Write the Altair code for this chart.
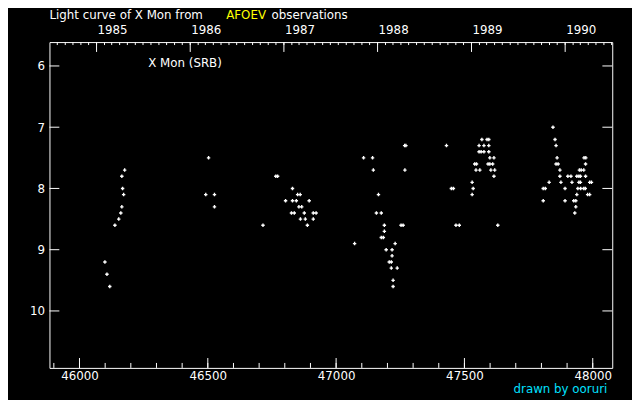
import altair as alt
import pandas as pd

# ---- observations (JD - 2400000, visual magnitude) ----
jd_1985 = [46099, 46107, 46118, 46138, 46153, 46161, 46165, 46172, 46168, 46165, 46176]
mag_1985 = [9.2, 9.4, 9.6, 8.6, 8.5, 8.4, 8.3, 8.1, 8.0, 7.8, 7.7]

jd_1986 = [46503, 46492, 46526, 46526]
mag_1986 = [7.5, 8.1, 8.1, 8.3]

jd_1987 = [46715, 46765, 46772, 46830, 46850, 46860, 46803, 46830, 46845, 46895,
           46855, 46866, 46826, 46837, 46876, 46911, 46922, 46861, 46880, 46911, 46888]
mag_1987 = [8.6, 7.8, 7.8, 8.0, 8.1, 8.1, 8.2, 8.2, 8.2, 8.2,
            8.3, 8.3, 8.4, 8.4, 8.4, 8.4, 8.4, 8.5, 8.5, 8.5, 8.6]

jd_1988 = [47072, 47107, 47142, 47145, 47165, 47157, 47176, 47188, 47188, 47176,
           47184, 47230, 47195, 47218, 47218, 47207, 47215, 47215, 47238, 47222,
           47222, 47253, 47261, 47267, 47272, 47268]
mag_1988 = [8.9, 7.5, 7.5, 7.7, 8.1, 8.4, 8.4, 8.6, 8.7, 8.8,
            8.8, 8.9, 9.0, 9.0, 9.1, 9.2, 9.2, 9.3, 9.3, 9.5,
            9.6, 8.6, 8.6, 7.3, 7.3, 7.7]

jd_1989 = [47430, 47449, 47457, 47467, 47480, 47530, 47534, 47530, 47540, 47547,
           47545, 47560, 47557, 47576, 47595, 47557, 47565, 47576, 47595, 47568,
           47588, 47595, 47599, 47615, 47592, 47599, 47610, 47603, 47618, 47615, 47630]
mag_1989 = [7.3, 8.0, 8.0, 8.6, 8.6, 7.9, 8.0, 8.1, 7.6, 7.6,
            7.7, 7.7, 7.3, 7.3, 7.3, 7.4, 7.4, 7.4, 7.4, 7.2,
            7.2, 7.2, 7.5, 7.5, 7.6, 7.6, 7.6, 7.7, 7.7, 7.8, 8.6]

jd_1990 = [47807, 47815, 47807, 47830, 47845, 47853, 47857, 47861, 47857, 47865,
           47872, 47872, 47876, 47892, 47892, 47903, 47915, 47919, 47938, 47946,
           47952, 47972, 47926, 47934, 47938, 47934, 47930, 47942, 47953, 47965,
           47971, 47946, 47952, 47988, 47995, 47948, 47955, 47965, 47966, 47973,
           47972, 47980, 47988]
mag_1990 = [8.0, 8.0, 8.2, 7.9, 7.0, 7.2, 7.3, 7.5, 7.6, 7.6,
            7.7, 7.8, 7.9, 8.0, 8.2, 7.8, 7.8, 7.9, 7.8, 7.8,
            7.8, 7.8, 8.2, 8.2, 8.1, 8.3, 8.4, 8.0, 8.0, 8.0,
            8.0, 7.9, 7.9, 7.9, 7.9, 7.7, 7.7, 7.7, 7.5, 7.5,
            7.6, 8.1, 8.1]

# ---- axis ticks / labels ----
x_major = [46000, 46500, 47000, 47500, 48000]
x_minor = list(range(45900, 48100, 100))
y_major = [6, 7, 8, 9, 10]
years = [1985, 1986, 1987, 1988, 1989, 1990]

X_DOMAIN = [45883, 48076]
Y_DOMAIN = [5.61, 10.93]


def to_jd(ts):
    return (pd.Timestamp(ts) - pd.Timestamp("1858-11-17")).days + 0.5


months = pd.date_range("1984-08-01", "1990-07-01", freq="MS")
month_jd = [to_jd(m) for m in months if X_DOMAIN[0] <= to_jd(m) <= X_DOMAIN[1]]
year_jd = [to_jd(f"{y}-01-01") for y in years]

obs = pd.DataFrame({
    "jd": jd_1985 + jd_1986 + jd_1987 + jd_1988 + jd_1989 + jd_1990,
    "mag": mag_1985 + mag_1986 + mag_1987 + mag_1988 + mag_1989 + mag_1990,
})

FONT = "DejaVu Sans"
xs = alt.Scale(domain=X_DOMAIN, nice=False, zero=False)
ys = alt.Scale(domain=Y_DOMAIN, reverse=True, nice=False, zero=False)

W, H = 570, 330

x_axis = alt.Axis(
    values=x_major, format="d", tickSize=0, domain=False, grid=False,
    labelColor="white", labelFont=FONT, labelFontSize=12, labelPadding=3,
    title=None)
y_axis = alt.Axis(
    values=y_major, format="d", tickSize=0, domain=False, grid=False,
    labelColor="white", labelFont=FONT, labelFontSize=12, labelPadding=5,
    title=None)

points = alt.Chart(obs).mark_point(
    shape="cross", filled=True, size=12, color="white", opacity=1, strokeWidth=0
).encode(
    x=alt.X("jd:Q", scale=xs, axis=x_axis),
    y=alt.Y("mag:Q", scale=ys, axis=y_axis),
)


def xrule(vals, y1, y2):
    return alt.Chart(pd.DataFrame({"jd": vals})).mark_rule(
        color="white", strokeWidth=1
    ).encode(
        x=alt.X("jd:Q", scale=xs, axis=x_axis),
        y=alt.value(y1), y2=alt.value(y2),
    )


def yrule(vals, x1, x2):
    return alt.Chart(pd.DataFrame({"mag": vals})).mark_rule(
        color="white", strokeWidth=1
    ).encode(
        y=alt.Y("mag:Q", scale=ys, axis=y_axis),
        x=alt.value(x1), x2=alt.value(x2),
    )


bottom_major = xrule(x_major, H, H - 10)
bottom_minor = xrule(x_minor, H, H - 5)
top_major = xrule(year_jd, 0, 10)
top_minor = xrule(month_jd, 0, 3)
left_ticks = yrule(y_major, 0, 10)
right_ticks = yrule(y_major, W, W - 10)

year_labels = alt.Chart(pd.DataFrame({"jd": year_jd, "label": [str(y) for y in years]})).mark_text(
    color="white", font=FONT, fontSize=12, align="left", baseline="alphabetic", dx=1
).encode(
    x=alt.X("jd:Q", scale=xs, axis=x_axis),
    y=alt.value(-8),
    text="label:N",
)


def note(txt, x, y, color="white"):
    return alt.Chart(pd.DataFrame({"t": [txt]})).mark_text(
        color=color, font=FONT, fontSize=12, align="left", baseline="alphabetic"
    ).encode(x=alt.value(x), y=alt.value(y), text="t:N")


title1 = note("Light curve of X Mon from", 0, -23)
title2 = note("AFOEV", 179, -23, "#ffff00")
title3 = note("observations", 225, -23)
star = note("X Mon (SRB)", 100, 25)
credit = note("drawn by ooruri", 470, 355, "#00e0ff")

chart = alt.layer(
    points, bottom_minor, bottom_major, top_minor, top_major, left_ticks, right_ticks,
    year_labels, title1, title2, title3, star, credit,
).properties(
    width=W, height=H,
    autosize=alt.AutoSizeParams(type="none"),
    padding={"left": 42, "top": 32, "right": 20, "bottom": 30},
    background="black",
    usermeta={"embedOptions": {
        "defaultStyle": "html,body{background:#000;overflow:hidden}"}},
).configure_view(
    stroke="white", strokeWidth=1
)

chart.save("out.html", embed_options={"renderer": "svg", "actions": False})
